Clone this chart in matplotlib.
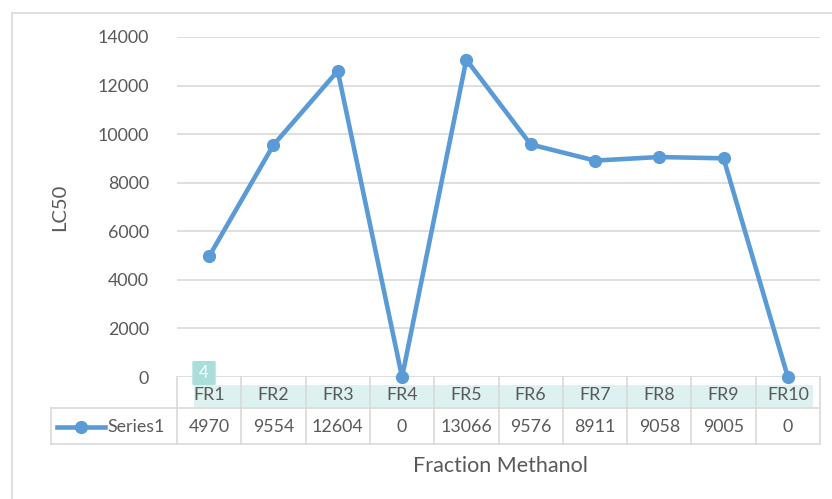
import matplotlib
matplotlib.use("Agg")
import matplotlib.pyplot as plt
from matplotlib.patches import Rectangle, FancyBboxPatch
from matplotlib.transforms import blended_transform_factory

categories = ["FR1", "FR2", "FR3", "FR4", "FR5", "FR6", "FR7", "FR8", "FR9", "FR10"]
values = [4970, 9554, 12604, 0, 13066, 9576, 8911, 9058, 9005, 0]
series_name = "Series1"
yticks = [0, 2000, 4000, 6000, 8000, 10000, 12000, 14000]

W, H = 832, 499
fig = plt.figure(figsize=(W / 100, H / 100), dpi=100)
plt.rcParams['font.family'] = ['Lato', 'DejaVu Sans']
txt = "#595959"
grid = "#D9D9D9"
blue = "#5B9BD5"
fs = 12.8

def fx(px):
    return px / W

def fy(py):
    return 1 - py / H

# outer frame
fig.patches.append(Rectangle((fx(12), fy(600)), 1.5, fy(13) - fy(600), transform=fig.transFigure,
                             fill=False, edgecolor=grid, linewidth=1.2, zorder=-5))

ax = fig.add_axes([fx(177), fy(377), fx(820) - fx(177), fy(37) - fy(377)])
ax.patch.set_alpha(0)
ax.set_zorder(2)
x = list(range(len(categories)))
ax.plot(x, values, color=blue, linewidth=3.3, marker="o", markersize=8.5, clip_on=False, zorder=5)
ax.set_xlim(-0.5, len(categories) - 0.5)
ax.set_ylim(0, 14000)
ax.set_yticks(yticks)
ax.set_yticklabels([str(v) for v in yticks], fontsize=fs, color=txt)
ax.tick_params(axis="y", length=0, pad=20)
ax.set_xticks([])
for s in ax.spines.values():
    s.set_visible(False)
ax.grid(axis="y", color=grid, linewidth=1.2)
ax.set_axisbelow(True)

# data table
bt = blended_transform_factory(ax.transData, fig.transFigure)
ft = fig.transFigure
n = len(categories)
fig.patches.append(Rectangle((fx(194), fy(407)), fx(813) - fx(194), fy(385) - fy(407), transform=ft,
                             facecolor="#DDF2F0", edgecolor="none", zorder=-2))
lk = dict(transform=ft, color=grid, lw=1.2, zorder=-1)
fig.add_artist(plt.Line2D([fx(51), fx(820)], [fy(408), fy(408)], **lk))
fig.add_artist(plt.Line2D([fx(51), fx(820)], [fy(444), fy(444)], **lk))
fig.add_artist(plt.Line2D([fx(51), fx(51)], [fy(408), fy(444)], **lk))
for i in range(n + 1):
    xb = i - 0.5
    fig.add_artist(plt.Line2D([xb, xb], [fy(377), fy(444)], transform=bt, color=grid, lw=1.2, zorder=-1))
for i, (c, v) in enumerate(zip(categories, values)):
    fig.text(i, fy(395), c, transform=bt, ha="center", va="center", fontsize=fs, color=txt)
    fig.text(i, fy(427), str(v), transform=bt, ha="center", va="center", fontsize=fs, color=txt)
# legend key
fig.add_artist(plt.Line2D([fx(57), fx(105)], [fy(427), fy(427)], transform=ft, color=blue, lw=3.3))
fig.add_artist(plt.Line2D([fx(81)], [fy(427)], transform=ft, color=blue, marker="o", markersize=8.5))
fig.text(fx(107), fy(427), series_name, transform=ft, ha="left", va="center", fontsize=fs, color=txt)

# badge
fig.patches.append(FancyBboxPatch((fx(194), fy(384)), fx(214) - fx(194), fy(362) - fy(384), transform=ft,
                                  boxstyle="round,pad=0.002", facecolor="#A9DEDB", edgecolor="none", zorder=6))
fig.text(fx(204), fy(373), "4", transform=ft, ha="center", va="center", fontsize=12, color="white", zorder=7)

fig.text(fx(500), fy(466), "Fraction Methanol", ha="center", va="center", fontsize=15.5, color=txt)
fig.text(fx(60), fy(207), "LC50", ha="center", va="center", rotation=90, fontsize=14.5, color=txt)

fig.savefig("out.png", dpi=100, facecolor="white")
